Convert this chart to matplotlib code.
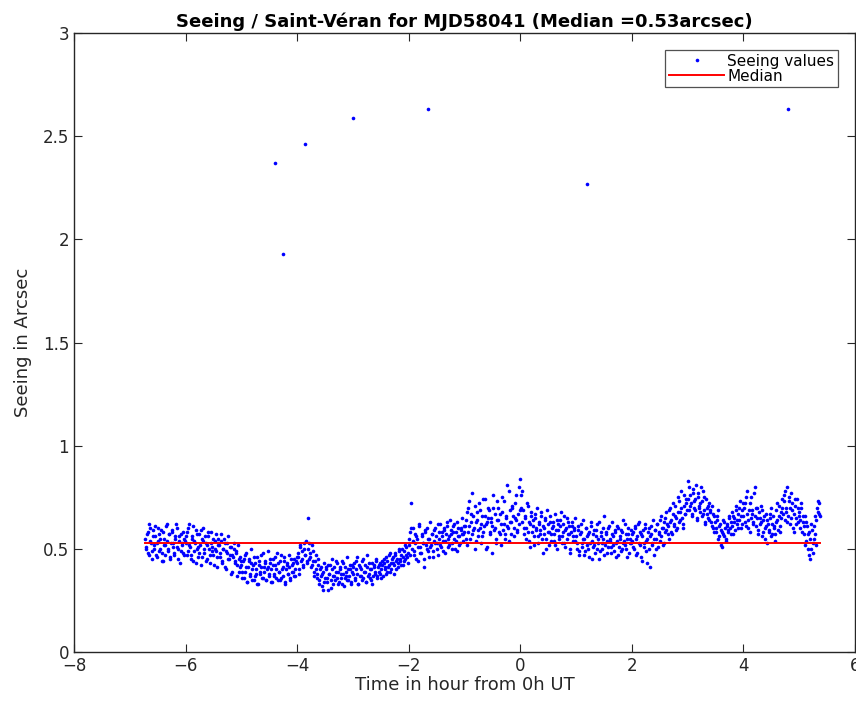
import numpy as np
import matplotlib
matplotlib.use('Agg')
import matplotlib.pyplot as plt

# seeing values in hundredths of arcsec, one block per time span (start, end)
block_spans = [(-6.72, -6.0), (-6.0, -5.0), (-5.0, -4.0), (-4.0, -3.0), (-3.0, -2.0), (-2.0, -1.0),
               (-1.0, 0.0), (0.0, 1.0), (1.0, 2.0), (2.0, 3.0), (3.0, 4.0), (4.0, 5.0), (5.0, 5.38)]
block_values = [
    "55 50 58 47 60 53 49 56 52 61 46 54 57 50 59 48 44 55 52 62 49 57 45 53 58 51 47 56 60 50 54 43 57 52 48 55",
    "53 58 49 62 51 47 56 44 54 59 50 46 57 52 42 55 60 48 53 45 56 50 43 58 51 47 54 49 41 55 52 46 57 44 50 53 40 48 56 45 51 38 47 53 44 49 42 52 39 46",
    "42 36 45 39 48 34 41 44 37 50 40 35 43 38 46 33 42 39 47 36 41 44 35 40 49 38 43 34 45 37 42 40 48 35 39 44 36 41 46 33 40 43 38 47 35 42 39 45 37 44",
    "43 48 38 52 45 41 50 47 54 44 65 53 46 42 49 37 44 40 36 45 33 41 38 30 43 36 40 34 42 38 31 45 37 41 35 39 43 33 40 36 44 38 32 41 37 46 35 40 34 42",
    "38 43 35 40 46 33 41 37 44 36 39 42 34 47 38 40 35 43 37 41 39 45 36 42 38 40 44 37 43 41 46 39 42 48 40 45 43 38 47 44 41 49 45 42 50 46 44 52 47 43",
    "55 58 72 50 60 47 53 56 44 62 51 48 57 53 41 59 50 55 46 63 52 57 49 54 60 53 47 58 62 51 56 54 59 48 61 55 52 64 57 50 58 62 54 49 60 56 53 59 65 57",
    "58 64 52 70 61 55 67 77 59 50 63 68 56 72 60 53 66 58 74 62 51 65 69 57 63 48 70 60 55 73 64 58 67 52 75 62 57 66 81 60 54 69 63 71 56 65 76 59 67 62",
    "84 70 78 60 66 55 72 58 63 51 68 61 56 65 59 70 53 62 57 66 48 60 64 55 69 58 52 63 57 61 54 67 59 50 62 56 64 53 58 66 51 60 55 63 57 48 61 54 59 65",
    "56 50 61 47 58 53 64 55 49 60 52 57 46 63 54 51 59 48 56 62 53 45 58 50 55 66 52 57 48 60 54 51 63 56 49 58 53 61 47 55 59 50 64 54 52 57 46 60 55 53",
    "54 58 50 61 47 56 63 52 57 44 59 53 62 49 55 60 41 57 52 64 55 59 50 62 57 54 66 60 52 63 58 68 61 55 70 64 57 72 62 66 59 75 63 68 78 65 60 71 67 74",
    "83 69 76 72 66 79 70 74 64 77 71 68 80 73 67 75 62 70 65 72 68 63 71 60 66 58 64 69 56 62 59 51 57 63 54 61 58 66 60 63 68 57 65 71 62 67 64 73 60 69",
    "66 72 61 78 64 69 58 75 67 63 80 70 65 59 68 62 71 56 64 60 67 53 62 58 65 70 57 61 54 63 72 59 66 61 68 74 76 64 70 80 66 73 62 77 69 58 71 65 74 63",
    "68 60 72 63 57 66 54 61 50 58 45 62 48 55 66 52 70 73 67",
]
# second set of readings, taken half a step later in each block
block_values_b = [
    "51 57 48 62 54 45 59 50 56 47 53 60 49 55 44 58 52 47 61 54 50 57 46 59 53 48 55 62 51 45 56 49 53 58 47 54",
    "56 47 60 52 45 55 61 49 53 43 57 51 48 59 46 54 50 56 44 52 58 47 53 49 55 42 50 57 46 52 48 54 43 50 55 41 49 53 45 47 51 39 46 50 43 48 37 45 41 44",
    "39 44 36 47 41 34 45 38 43 35 42 46 37 40 33 44 38 41 36 48 39 43 35 41 37 45 40 34 42 38 46 36 43 39 35 47 40 37 44 34 42 38 41 36 45 39 43 37 40 46",
    "46 40 51 44 49 42 53 47 43 50 45 48 41 52 44 39 47 38 42 35 40 37 32 39 34 41 36 30 38 42 35 40 33 37 44 36 39 34 41 38 33 43 36 39 35 40 37 42 33 39",
    "41 36 44 38 33 42 37 40 35 45 39 34 41 37 43 36 40 33 42 38 44 37 41 39 43 36 42 45 40 38 44 41 47 39 43 46 42 48 40 45 43 50 44 47 42 49 45 51 46 48",
    "52 47 60 54 49 57 45 55 51 61 48 56 53 45 58 52 60 49 55 51 57 46 59 53 56 50 62 55 52 58 49 60 54 57 63 51 56 59 53 61 55 50 58 63 56 52 60 57 54 61",
    "61 55 68 58 73 63 57 66 60 71 54 64 59 69 62 56 74 61 66 50 63 70 58 65 61 76 59 67 53 64 70 57 62 68 59 73 55 65 61 78 63 57 70 66 60 72 64 58 80 69",
    "76 63 69 57 65 60 71 54 62 66 58 64 52 67 60 56 63 59 68 55 61 57 65 50 62 58 66 54 60 63 57 52 64 59 55 61 68 56 62 53 59 65 57 61 50 58 63 56 60 54",
    "53 59 49 57 62 51 55 47 60 56 50 58 53 61 45 57 52 59 50 55 63 49 56 53 60 47 58 54 51 61 55 48 57 52 59 46 54 60 51 56 49 58 53 62 50 55 57 48 53 59",
    "57 51 60 55 48 62 53 58 46 56 51 60 54 43 58 50 56 61 53 47 59 55 62 51 58 64 56 60 53 65 59 62 57 69 63 58 67 61 71 65 60 68 73 64 70 62 76 67 72 69",
    "74 80 71 67 77 73 69 81 65 75 70 72 66 78 69 63 74 67 71 64 69 61 67 58 63 60 66 55 61 52 58 64 56 60 55 62 59 65 57 61 66 63 59 69 64 60 70 66 62 72",
    "70 63 75 67 60 72 65 69 62 77 66 61 70 57 65 63 69 58 66 55 61 64 59 67 56 62 66 60 57 69 64 71 58 65 70 67 73 78 68 63 75 70 65 72 60 67 74 62 70 66",
    "64 70 58 66 61 52 63 57 47 55 50 59 53 61 57 64 68 72 66",
]

# isolated high values
outlier_time = [-4.4, -4.25, -3.85, -3.0, -1.65, 1.2, 4.8]
outlier_seeing = [2.37, 1.93, 2.46, 2.59, 2.63, 2.27, 2.63]

median_seeing = 0.53

times = []
seeing = []
for (t0, t1), vals_a, vals_b in zip(block_spans, block_values, block_values_b):
    for k, vals in enumerate([vals_a, vals_b]):
        v = [int(s) / 100.0 for s in vals.split()]
        step = (t1 - t0) / len(v)
        times.extend(np.linspace(t0, t1, len(v), endpoint=False) + k * step / 2)
        seeing.extend(v)
times = np.array(times + outlier_time)
seeing = np.array(seeing + outlier_seeing)
order = np.argsort(times)
times = times[order]
seeing = seeing[order]

plt.rcParams['font.family'] = 'DejaVu Sans'

fig = plt.figure(figsize=(8.56, 7.02), dpi=100)
ax = fig.add_axes([0.0864, 0.0712, 0.9124, 0.8818])

ax.plot(times, seeing, 'o', color='#0000ff', markersize=2.6, markeredgewidth=0, label='Seeing values')
ax.plot([times[0], times[-1]], [median_seeing, median_seeing], color='#ff0000', linewidth=1.4, label='Median')

ax.set_xlim(-8, 6)
ax.set_ylim(0, 3)
ax.set_xticks(np.arange(-8, 7, 2))
ax.set_yticks(np.arange(0, 3.01, 0.5))
ax.set_yticklabels(['0', '0.5', '1', '1.5', '2', '2.5', '3'])
ax.tick_params(direction='in', top=True, right=True, length=6, width=0.8, labelsize=12, colors='#262626')
for sp in ax.spines.values():
    sp.set_linewidth(1.0)
    sp.set_color('#262626')

ax.set_xlabel('Time in hour from 0h UT', fontsize=13, color='#262626', labelpad=1)
ax.set_ylabel('Seeing in Arcsec', fontsize=13, color='#262626', labelpad=8)
ax.set_title('Seeing / Saint-Véran for MJD58041 (Median =%.2farcsec)' % median_seeing,
             fontsize=13, fontweight='bold', pad=4)

leg = ax.legend(loc='upper right', fontsize=11, frameon=True, fancybox=False, edgecolor='#262626',
                borderpad=0.25, labelspacing=0.0, handlelength=3.6, handletextpad=0.2,
                borderaxespad=1.1, markerscale=1.0)
leg.get_frame().set_linewidth(0.9)

fig.savefig('out.png', dpi=100)
